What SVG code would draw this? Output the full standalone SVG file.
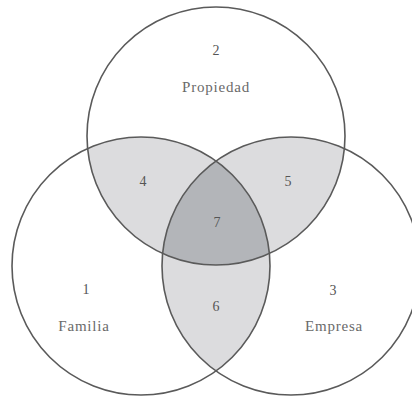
<svg xmlns="http://www.w3.org/2000/svg" width="412" height="400" viewBox="0 0 412 400">
<style>
.c{fill:none;stroke:#5a5a5a;stroke-width:1.6}
.t{font-family:"Liberation Serif","Times New Roman",serif;font-size:15px;fill:#6a6a6a;text-anchor:middle;letter-spacing:0.8px}
.n{font-family:"Liberation Serif","Times New Roman",serif;font-size:14px;fill:#555;text-anchor:middle}
</style>
<defs>
<clipPath id="cT"><circle cx="216" cy="136" r="129"/></clipPath>
<clipPath id="cL"><circle cx="141" cy="266" r="129"/></clipPath>
<clipPath id="cR"><circle cx="291" cy="266" r="129"/></clipPath>
</defs>
<rect width="412" height="400" fill="#ffffff"/>
<g id="fills">
<g clip-path="url(#cT)"><circle cx="141" cy="266" r="129" fill="#dcdcde"/><circle cx="291" cy="266" r="129" fill="#dcdcde"/></g>
<g clip-path="url(#cL)"><circle cx="291" cy="266" r="129" fill="#dcdcde"/></g>
<g clip-path="url(#cT)"><g clip-path="url(#cL)"><circle cx="291" cy="266" r="129" fill="#b3b5b9"/></g></g>
</g>
<g id="propiedad"><circle class="c" cx="216" cy="136" r="129"/><text class="n" x="216" y="55">2</text><text class="t" x="216" y="92">Propiedad</text></g>
<g id="familia"><circle class="c" cx="141" cy="266" r="129"/><text class="n" x="86" y="294">1</text><text class="t" x="84" y="331">Familia</text></g>
<g id="empresa"><circle class="c" cx="291" cy="266" r="129"/><text class="n" x="333" y="295">3</text><text class="t" x="334" y="331">Empresa</text></g>
<g id="region4"><text class="n" x="143" y="186">4</text></g>
<g id="region5"><text class="n" x="288" y="186">5</text></g>
<g id="region6"><text class="n" x="216" y="311">6</text></g>
<g id="region7"><text class="n" x="217" y="227">7</text></g>
</svg>
